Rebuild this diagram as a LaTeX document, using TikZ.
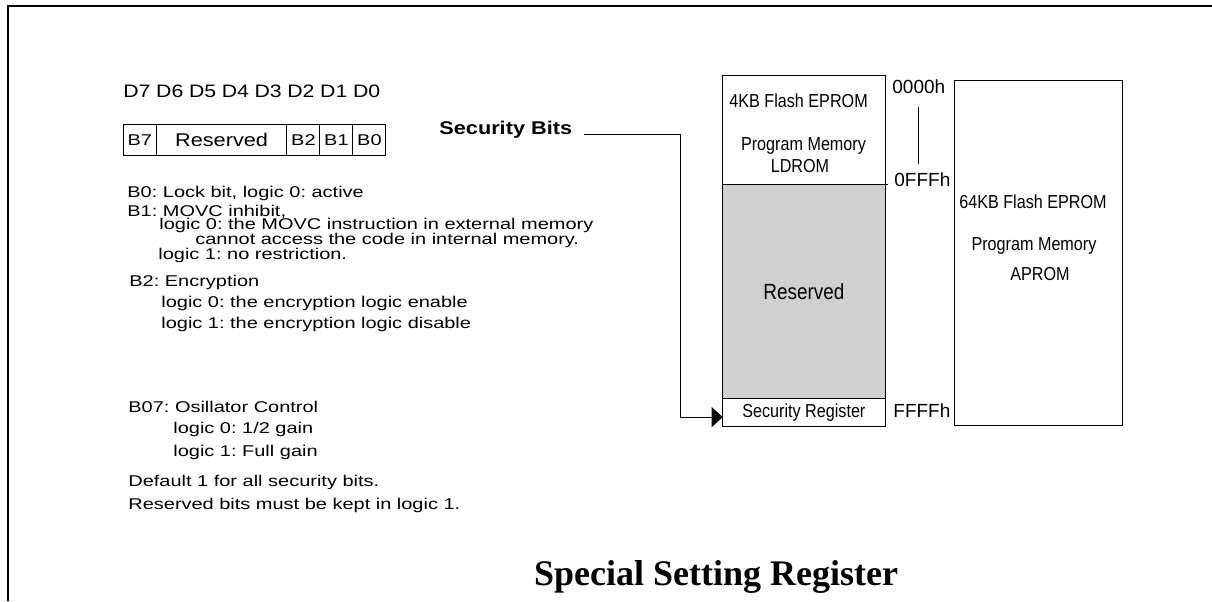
\documentclass[tikz,border=0pt]{standalone}
\usepackage{fontspec}
\setmainfont{Liberation Sans}
\newfontfamily\bodyfont[FakeStretch=1.28]{Liberation Sans}
\newfontfamily\widefont[FakeStretch=1.18]{Liberation Sans}
\newfontfamily\narrowfont[FakeStretch=0.86]{Liberation Sans}
\newfontfamily\titlefont{Liberation Serif}
\usetikzlibrary{positioning,arrows.meta}
\definecolor{resvgray}{RGB}{208,208,208}
\frenchspacing

\begin{document}
\begin{tikzpicture}[x=0.5pt,y=-0.5pt]
\tikzstyle{txt}=[anchor=base west, inner sep=0pt, font=\bodyfont\fontsize{7.8}{9}\selectfont]
\tikzstyle{dlabel}=[anchor=base west, inner sep=0pt, font=\widefont\fontsize{9}{11}\selectfont]
\tikzstyle{bitcell}=[draw, line width=0.5pt, minimum height=15.35pt, minimum width=16.5pt, inner sep=0pt, outer sep=0pt, font=\bodyfont\fontsize{7.8}{10}\selectfont]
\tikzstyle{memblock}=[draw, line width=0.5pt, minimum width=81.15pt, inner sep=0pt, outer sep=0pt, font=\narrowfont\fontsize{9.4}{11}\selectfont]
\tikzstyle{memtxt}=[anchor=base, inner sep=0pt, font=\narrowfont\fontsize{9.4}{11}\selectfont]
\tikzstyle{addr}=[anchor=base west, inner sep=0pt, font=\fontsize{9.5}{11}\selectfont]
\useasboundingbox (0,0) rectangle (1212,601);
\draw[line width=1pt] (8,601) -- (8,6) -- (1212,6);

\foreach \i in {7,...,0}
  \node[dlabel] (d\i) at ({123+(7-\i)*32.8},97) {D\i};

\node[bitcell, anchor=west] (b7) at (123.3,139.7) {B7};
\node[bitcell, minimum width=65.3pt, font=\widefont\fontsize{9.2}{12}\selectfont] (bres) [right=0pt of b7] {Reserved};
\node[bitcell] (b2) [right=0pt of bres] {B2};
\node[bitcell] (b1) [right=0pt of b2] {B1};
\node[bitcell] (b0) [right=0pt of b1] {B0};

\node[txt] (b0txt) at (127,197) {B0: Lock bit, logic 0: active};
\node[txt] (b1txt) at (127,216) {B1: MOVC inhibit,};
\node[txt] (b1low) at (159,229.8) {logic 0: the MOVC instruction in external memory};
\node[txt] (b1more) at (195,244.6) {cannot access the code in internal memory.};
\node[txt] (b1high) at (158,259.4) {logic 1: no restriction.};
\node[txt] (b2txt) at (129,286) {B2: Encryption};
\node[txt] (b2low) at (161,307) {logic 0: the encryption logic enable};
\node[txt] (b2high) at (161,328) {logic 1: the encryption logic disable};
\node[txt] (b7txt) at (128,412) {B07: Osillator Control};
\node[txt] (b7low) at (173,433.5) {logic 0: 1/2 gain};
\node[txt] (b7high) at (173,456) {logic 1: Full gain};
\node[txt] (dflt) at (128,486) {Default 1 for all security bits.};
\node[txt] (rsvnote) at (128,509) {Reserved bits must be kept in logic 1.};

\node[memblock, minimum height=54.5pt] (ldrom) at (803.85,129.5) {};
\node[memblock, fill=resvgray, minimum height=107.35pt, font=\narrowfont\fontsize{11}{13}\selectfont] (resv) [below=0pt of ldrom] {Reserved};
\node[memblock, minimum height=14pt] (secreg) [below=0pt of resv] {Security Register};
\node[draw, line width=0.5pt, minimum width=84pt, minimum height=172.5pt, inner sep=0pt] (aprom) at (1038,252.5) {};

\node[memtxt, anchor=base west] (ld1) at (729,107) {4KB Flash EPROM};
\node[memtxt] (ld2) at (803.5,150) {Program Memory};
\node[memtxt] (ld3) at (800,172) {LDROM};
\node[memtxt] (ap1) at (1033,208) {64KB Flash EPROM};
\node[memtxt] (ap2) at (1034,250) {Program Memory};
\node[memtxt] (ap3) at (1040,280) {APROM};

\node[addr] (h0000) at (892,93) {0000h};
\node[addr] (h0fff) at (894,186) {0FFFh};
\node[addr] (hffff) at (893,417) {FFFFh};
\draw[line width=0.5pt, shorten <=6.5pt, shorten >=3.75pt] (h0000.south) -- (h0000.south |- h0fff.north);
\draw[line width=0.5pt] (ldrom.south east) -- ++(3,0);

\node[anchor=base west, inner sep=0pt, font=\widefont\bfseries\fontsize{9.2}{12}\selectfont] (secbits) at (439,134) {Security Bits};
\coordinate (bend) at (680.5,134);
\draw[line width=0.5pt, -{Triangle[length=5.5pt,width=10pt]}] ([xshift=5.5pt]secbits.base east) -- (bend) |- ([yshift=-2.2pt]secreg.west);

\node[anchor=base, inner sep=0pt, font=\titlefont\bfseries\fontsize{18}{20}\selectfont] (title) at (716,585) {Special Setting Register};
\end{tikzpicture}
\end{document}
